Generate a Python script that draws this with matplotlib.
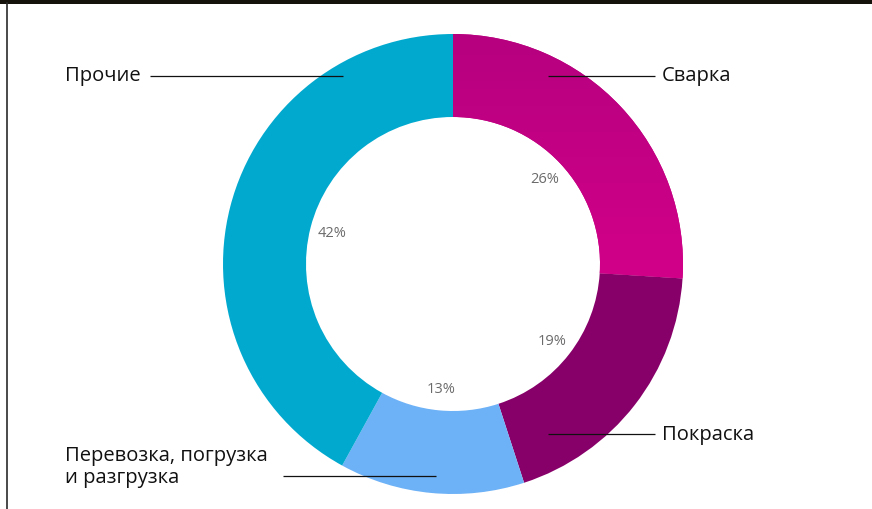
import matplotlib
matplotlib.use("Agg")
import matplotlib.pyplot as plt
import numpy as np
from matplotlib.colors import LinearSegmentedColormap
from matplotlib.patches import Rectangle

# Структура затрат, %
categories = ["Сварка", "Покраска", "Перевозка, погрузка\nи разгрузка", "Прочие"]
shares = [26, 19, 13, 42]
colors = ["#C4007F", "#870069", "#6DB1F6", "#02A9CF"]

plt.rcParams["font.family"] = ["Open Sans", "DejaVu Sans"]

W, H = 872, 510
fig = plt.figure(figsize=(W / 100, H / 100), dpi=100)
ax = fig.add_axes([0, 0, 1, 1])

cx, cy = 453, H - 265
R, ring = 230, 83

wedges, texts, autotexts = ax.pie(
    shares,
    colors=colors,
    startangle=90,
    counterclock=False,
    center=(cx, cy),
    radius=R,
    wedgeprops=dict(width=ring, linewidth=0),
    autopct=lambda p: f"{p:.0f}%",
    pctdistance=0.545,
    textprops=dict(color="#6b6b6b", fontsize=10.5),
)

# soft vertical gradient on the first wedge
grad = LinearSegmentedColormap.from_list("g", ["#D4008A", "#B5007F"])
img = ax.imshow(np.linspace(0, 1, 256).reshape(-1, 1), cmap=grad, origin="lower",
                extent=(cx - 10, cx + R + 5, cy - 30, cy + R + 5), aspect="auto", zorder=1.5)
img.set_clip_path(wedges[0])

ax.set_xlim(0, W)
ax.set_ylim(0, H)
ax.set_aspect("equal")
ax.axis("off")

def py(y):
    return H - y

line_kw = dict(color="#111111", lw=0.9, zorder=3, solid_capstyle="butt")
txt_kw = dict(fontsize=14.5, color="#111111", va="center", zorder=3)

# leader lines and category labels
ax.plot([150, 343], [py(77), py(77)], **line_kw)
ax.text(65, py(76), categories[3], ha="left", **txt_kw)

ax.plot([548, 655], [py(77), py(77)], **line_kw)
ax.text(662, py(76), categories[0], ha="left", **txt_kw)

ax.plot([548, 655], [py(435), py(435)], **line_kw)
ax.text(662, py(435), categories[1], ha="left", **txt_kw)

ax.plot([283, 436], [py(477), py(477)], **line_kw)
ax.text(65, py(467), categories[2], ha="left", linespacing=1.12, **txt_kw)

# frame elements: top band and left rule
ax.add_patch(Rectangle((0, H - 4.5), W, 4.5, color="#15110b", zorder=4, lw=0))
ax.plot([6.5, 6.5], [0, H - 4], color="#2a2a2a", lw=1.2, zorder=4)

fig.savefig("out.png", dpi=100)
